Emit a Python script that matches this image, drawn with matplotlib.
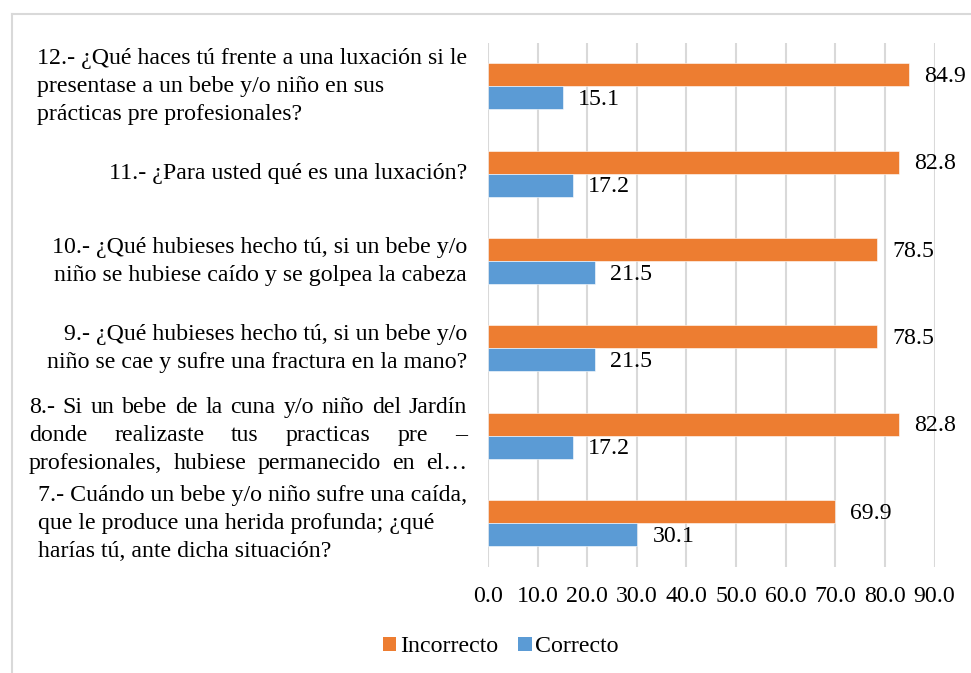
import matplotlib
matplotlib.use("Agg")
import matplotlib.pyplot as plt
from matplotlib.patches import Patch
from matplotlib.lines import Line2D

plt.rcParams['font.family'] = ['Liberation Serif', 'DejaVu Serif']

# ---- data (bottom to top) ----
questions = [
    ["7.- Cuándo un bebe y/o niño sufre una caída,",
     "que le produce una herida profunda; ¿qué",
     "harías tú, ante dicha situación?"],
    ["8.- Si un bebe de la cuna y/o niño del Jardín",
     "donde realizaste tus practicas pre –",
     "profesionales, hubiese permanecido en el…"],
    ["9.- ¿Qué hubieses hecho tú, si un bebe y/o",
     "niño se cae y sufre una fractura en la mano?"],
    ["10.- ¿Qué hubieses hecho tú, si un bebe y/o",
     "niño se hubiese caído y se golpea la cabeza"],
    ["11.- ¿Para usted qué es una luxación?"],
    ["12.- ¿Qué haces tú frente a una luxación si le",
     "presentase a un bebe y/o niño en sus",
     "prácticas pre profesionales?"],
]
label_align = ["left", "justify", "right", "right", "right", "left"]
incorrecto = [69.9, 82.8, 78.5, 78.5, 82.8, 84.9]
correcto = [30.1, 17.2, 21.5, 21.5, 17.2, 15.1]
series_names = ["Incorrecto", "Correcto"]
xticks = [0, 10, 20, 30, 40, 50, 60, 70, 80, 90]

ORANGE = "#ED7D31"
BLUE = "#5B9BD5"
GRID = "#D9D9D9"
FS = 17.2

W, H = 971, 673
fig = plt.figure(figsize=(W / 100, H / 100), dpi=100)
ax = fig.add_axes([488 / W, 1 - 567 / H, (934.5 - 488) / W, (567 - 42.5) / H])

bh = 0.263
ypos = list(range(len(questions)))
ax.barh([y + bh / 2 for y in ypos], incorrecto, height=bh, color=ORANGE,
        edgecolor="white", linewidth=0.4, zorder=3)
ax.barh([y - bh / 2 for y in ypos], correcto, height=bh, color=BLUE,
        edgecolor="white", linewidth=0.4, zorder=3)

for y, v in zip(ypos, incorrecto):
    ax.annotate(f"{v:.1f}", (v, y + bh / 2), xytext=(15, -1.5), textcoords="offset pixels",
                ha="left", va="center", fontsize=FS)
for y, v in zip(ypos, correcto):
    ax.annotate(f"{v:.1f}", (v, y - bh / 2), xytext=(15, -1.5), textcoords="offset pixels",
                ha="left", va="center", fontsize=FS)

ax.set_xlim(0, 90)
ax.set_ylim(-0.5, len(questions) - 0.5)
ax.set_xticks(xticks)
ax.set_xticklabels([f"{t:.1f}" for t in xticks], fontsize=FS)
ax.set_yticks([])
ax.tick_params(axis="x", length=0, pad=14)
ax.grid(axis="x", color=GRID, linewidth=1.5, zorder=0)
ax.set_axisbelow(True)
for s in ax.spines.values():
    s.set_visible(False)

# ---- category labels ----
fig.canvas.draw()
renderer = fig.canvas.get_renderer()


def text_width(s):
    t = fig.text(0, 0, s, fontsize=FS)
    w = t.get_window_extent(renderer).width
    t.remove()
    return w


RIGHT = 467
LINE = 28
JUST_LEFT = 29
for idx, (lines, al) in enumerate(zip(questions, label_align)):
    cy = ax.transData.transform((0, idx))[1]
    n = len(lines)
    ys = [cy + (n - 1) / 2 * LINE - i * LINE for i in range(n)]
    if al == "right":
        for s, y in zip(lines, ys):
            fig.text(RIGHT / W, y / H, s, ha="right", va="center", fontsize=FS)
    elif al == "left":
        x0 = RIGHT - max(text_width(s) for s in lines)
        for s, y in zip(lines, ys):
            fig.text(x0 / W, y / H, s, ha="left", va="center", fontsize=FS)
    else:  # justified
        for s, y in zip(lines, ys):
            words = s.split(" ")
            widths = [text_width(w_) for w_ in words]
            gap = (RIGHT - JUST_LEFT - sum(widths)) / (len(words) - 1)
            x = JUST_LEFT
            for w_, ww in zip(words, widths):
                fig.text(x / W, y / H, w_, ha="left", va="center", fontsize=FS)
                x += ww + gap

# ---- legend ----
handles = [Patch(facecolor=ORANGE, edgecolor="none"), Patch(facecolor=BLUE, edgecolor="none")]
fig.legend(handles, series_names, loc="center", bbox_to_anchor=(501 / W, 1 - 647 / H),
           ncol=2, frameon=False, fontsize=FS, handlelength=0.55, handleheight=0.55,
           handletextpad=0.15, columnspacing=0.85, borderaxespad=0)

# ---- outer chart frame ----
fig.add_artist(Line2D([12 / W, 12 / W], [0, 1 - 14 / H], color=GRID, linewidth=1.5))
fig.add_artist(Line2D([12 / W, 1], [1 - 14 / H, 1 - 14 / H], color=GRID, linewidth=1.5))

fig.savefig("out.png", dpi=100)
